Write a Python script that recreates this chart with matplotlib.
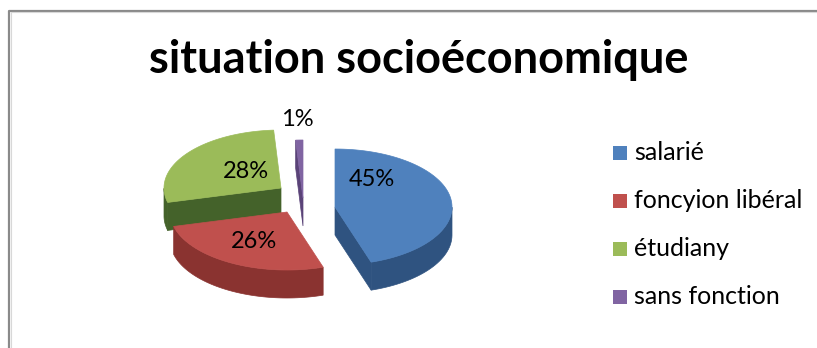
import numpy as np
import matplotlib
matplotlib.use('Agg')
from matplotlib import pyplot as plt
from matplotlib.patches import Polygon, Rectangle

plt.rcParams['font.family'] = ['Lato', 'DejaVu Sans']

# data
categories = ['salarié', 'foncyion libéral', 'étudiany', 'sans fonction']
shares = [45, 26, 28, 1]
pct_labels = ['45%', '26%', '28%', '1%']
title_str = 'situation socioéconomique'

# styles (excel 2007 palette)
top_colors = ['#4f81bd', '#c0504d', '#9bbb59', '#8064a2']
side_colors = ['#2f5380', '#8a3330', '#44622a', '#5a4378']

# layout in pixel coords (y goes down)
W, H = 817, 348
rx, ry, depth = 117, 58, 28
apex = [(335, 207), (287, 212), (281, 188), (303, 198)]
label_xy = [(372, 179), (254, 241), (246, 171), (297, 119)]
draw_order = [2, 3, 0, 1]   # back to front


def pt(cx, cy, a, dz=0):
    return (cx + rx * np.cos(a), cy - ry * np.sin(a) + dz)


def draw_slice(ax, a0, a1, cx, cy, top_c, side_c):
    # a0 < a1, counter clockwise, radians
    arc = np.linspace(a0, a1, 80)
    # outer wall, only the part facing us
    front = arc[np.sin(arc) < 0]
    if len(front) > 1:
        upper = [pt(cx, cy, a) for a in front]
        lower = [pt(cx, cy, a, depth) for a in front[::-1]]
        ax.add_patch(Polygon(upper + lower, closed=True, fc=side_c, ec=side_c, lw=0.5))
    # radial faces
    if np.cos(a0) > 0:
        p = pt(cx, cy, a0)
        ax.add_patch(Polygon([(cx, cy), p, (p[0], p[1] + depth), (cx, cy + depth)],
                             closed=True, fc=side_c, ec=side_c, lw=0.5))
    if np.cos(a1) < 0:
        p = pt(cx, cy, a1)
        ax.add_patch(Polygon([(cx, cy), p, (p[0], p[1] + depth), (cx, cy + depth)],
                             closed=True, fc=side_c, ec=side_c, lw=0.5))
    # top face
    ax.add_patch(Polygon([(cx, cy)] + [pt(cx, cy, a) for a in arc], closed=True,
                         fc=top_c, ec=top_c, lw=0.5))


fig = plt.figure(figsize=(W / 100, H / 100), dpi=100)
ax = fig.add_axes([0, 0, 1, 1])
ax.set_xlim(0, W)
ax.set_ylim(H, 0)
ax.axis('off')

# chart frame (cut at right and bottom)
ax.plot([9.5, 9.5, W + 5], [H + 5, 10.5, 10.5], color='#8a8a8a', lw=1.6, solid_capstyle='butt')
ax.plot([11, 11, W + 5], [H + 5, 12, 12], color='#d8d8d8', lw=0.8)

# angles: start at 90 deg, clockwise
fr = np.array(shares) / sum(shares) * 2 * np.pi
ends = np.pi / 2 - np.cumsum(fr)
starts = ends + fr
for i in draw_order:
    cx, cy = apex[i]
    draw_slice(ax, ends[i], starts[i], cx, cy, top_colors[i], side_colors[i])

for i in range(len(shares)):
    ax.text(label_xy[i][0], label_xy[i][1], pct_labels[i], fontsize=17,
            ha='center', va='center', color='black')

ax.text(419, 60, title_str, fontsize=32.5, fontweight='bold', ha='center', va='center')

# legend
for i, name in enumerate(categories):
    y = 153 + 48 * i
    ax.add_patch(Rectangle((613, y - 7), 14, 14, fc=top_colors[i], ec='none'))
    ax.text(634, y, name, fontsize=18, ha='left', va='center')

plt.savefig('out.png', dpi=100)
